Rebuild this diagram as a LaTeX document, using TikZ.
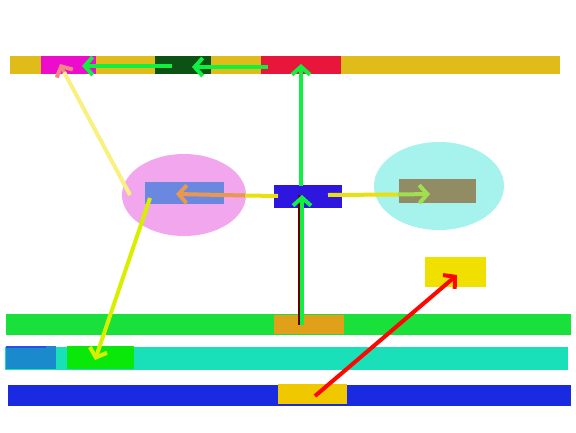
\documentclass[tikz,border=0pt]{standalone}
\usetikzlibrary{arrows.meta,shapes.geometric}
\definecolor{cgold}{HTML}{E0BC1A}
\definecolor{cmag}{HTML}{EE0CCC}
\definecolor{cdkg}{HTML}{0B5214}
\definecolor{cred}{HTML}{E8163A}
\definecolor{cpink}{HTML}{F2A6EE}
\definecolor{cbr}{HTML}{6B88E0}
\definecolor{ccyan}{HTML}{A6F2EC}
\definecolor{colive}{HTML}{928C64}
\definecolor{cblue}{HTML}{2E16E0}
\definecolor{cyel}{HTML}{F0E000}
\definecolor{cgreen}{HTML}{1AE03C}
\definecolor{corange}{HTML}{E0A01A}
\definecolor{cteal}{HTML}{1AE0BA}
\definecolor{csb}{HTML}{1A8ACC}
\definecolor{cbg}{HTML}{0AE80A}
\definecolor{cbbar}{HTML}{1A2AE0}
\definecolor{cyel2}{HTML}{F0C800}
\definecolor{carrg}{HTML}{10F040}
\definecolor{lyel}{HTML}{E8E010}
\definecolor{lor}{HTML}{E89850}
\definecolor{lgr}{HTML}{A0E050}
\definecolor{lpale}{HTML}{F8F080}
\definecolor{lpink}{HTML}{F08888}
\definecolor{lyg}{HTML}{D8F000}
\tikzset{
  box/.style={rectangle,inner sep=0pt,draw=none},
  oval/.style={ellipse,inner sep=0pt,draw=none},
  seg/.style={line width=4pt},
  arr/.style={line width=4pt,-{Straight Barb[length=8pt,width=18pt,line width=4pt]}},
}
\begin{document}
\begin{tikzpicture}[x=1pt,y=-1pt]
\useasboundingbox (0,0) rectangle (576,432);
% bars and boxes
\node[box,fill=cgold,minimum width=550pt,minimum height=18pt] (topbar) at (285,65) {};
\node[box,fill=cmag,minimum width=55pt,minimum height=18pt] (mag) at (68.5,65) {};
\node[box,fill=cdkg,minimum width=56pt,minimum height=18pt] (dkg) at (183,65) {};
\node[box,fill=cred,minimum width=80pt,minimum height=18pt] (redb) at (301,65) {};
\node[oval,fill=cpink,minimum width=124pt,minimum height=82pt] (pinkell) at (184,195) {};
\node[box,fill=cbr,minimum width=79pt,minimum height=22pt] (brect) at (184.5,193) {};
\node[oval,fill=ccyan,minimum width=130pt,minimum height=88pt] (cyell) at (439,186) {};
\node[box,fill=colive,minimum width=77pt,minimum height=24pt] (olive) at (437.5,191) {};
\node[box,fill=cblue,minimum width=68pt,minimum height=23pt] (bluebox) at (308,196.5) {};
\node[box,fill=cyel,minimum width=61pt,minimum height=30pt] (yelbox) at (455.5,272) {};
\node[box,fill=cgreen,minimum width=565pt,minimum height=21pt] (greenbar) at (288.5,324.5) {};
\node[box,fill=corange,minimum width=70pt,minimum height=19pt] (orbox) at (309,324.5) {};
\node[box,fill=cteal,minimum width=563pt,minimum height=23pt] (tealbar) at (286.5,358.5) {};
\node[box,fill=csb,minimum width=50pt,minimum height=23pt] (sbox) at (31,357.5) {};
\node[box,fill=cbg,minimum width=67pt,minimum height=23pt] (bgbox) at (100.5,357.5) {};
\node[box,fill=cbbar,minimum width=563pt,minimum height=21pt] (bluebar) at (289.5,395.5) {};
\node[box,fill=cyel2,minimum width=69pt,minimum height=20pt] (yel2) at (312.5,394) {};
\draw[blue!80,line width=2pt,opacity=0.7] (sbox.north west) ++(0,1) -- ++(40,0);
% connector end points
\coordinate (a1) at (172,66); \coordinate (a2) at (82,66);
\coordinate (b1) at (268,67); \coordinate (b2) at (192,67);
\coordinate (c1) at (301,186); \coordinate (c2) at (301,64);
\coordinate (d1) at (301,325); \coordinate (d2) at (301,195);
\coordinate (e1) at (278,196); \coordinate (em) at (245,195.5); \coordinate (e2) at (176,194);
\coordinate (f1) at (328,195); \coordinate (fm) at (398,194.5); \coordinate (f2) at (430,194);
\coordinate (g1) at (130,195); \coordinate (gm) at (64,72); \coordinate (g2) at (60,64);
\coordinate (h1) at (150,198); \coordinate (h2) at (95,360);
\coordinate (k1) at (315,396); \coordinate (k2) at (457,275);
% connectors
\draw[arr,carrg] (a1) -- (a2);
\draw[arr,carrg] (b1) -- (b2);
\draw[arr,carrg] (c1) -- (c2);
\draw[line width=2pt,black!60!red] ([xshift=-2pt]d1) -- ([xshift=-2pt]d2);
\draw[arr,carrg,line width=3.5pt] ([xshift=1pt]d1) -- ([xshift=1pt]d2);
\draw[seg,lyel] (e1) -- (em);
\draw[arr,lor] (em) -- (e2);
\draw[seg,lyel] (f1) -- (fm);
\draw[arr,lgr] (fm) -- (f2);
\draw[seg,lpale] (g1) -- (gm);
\draw[arr,lpink,line width=3pt] (gm) -- (g2);
\draw[arr,lyg] (h1) -- (h2);
\draw[arr,red!95!orange] (k1) -- (k2);
\end{tikzpicture}
\end{document}
